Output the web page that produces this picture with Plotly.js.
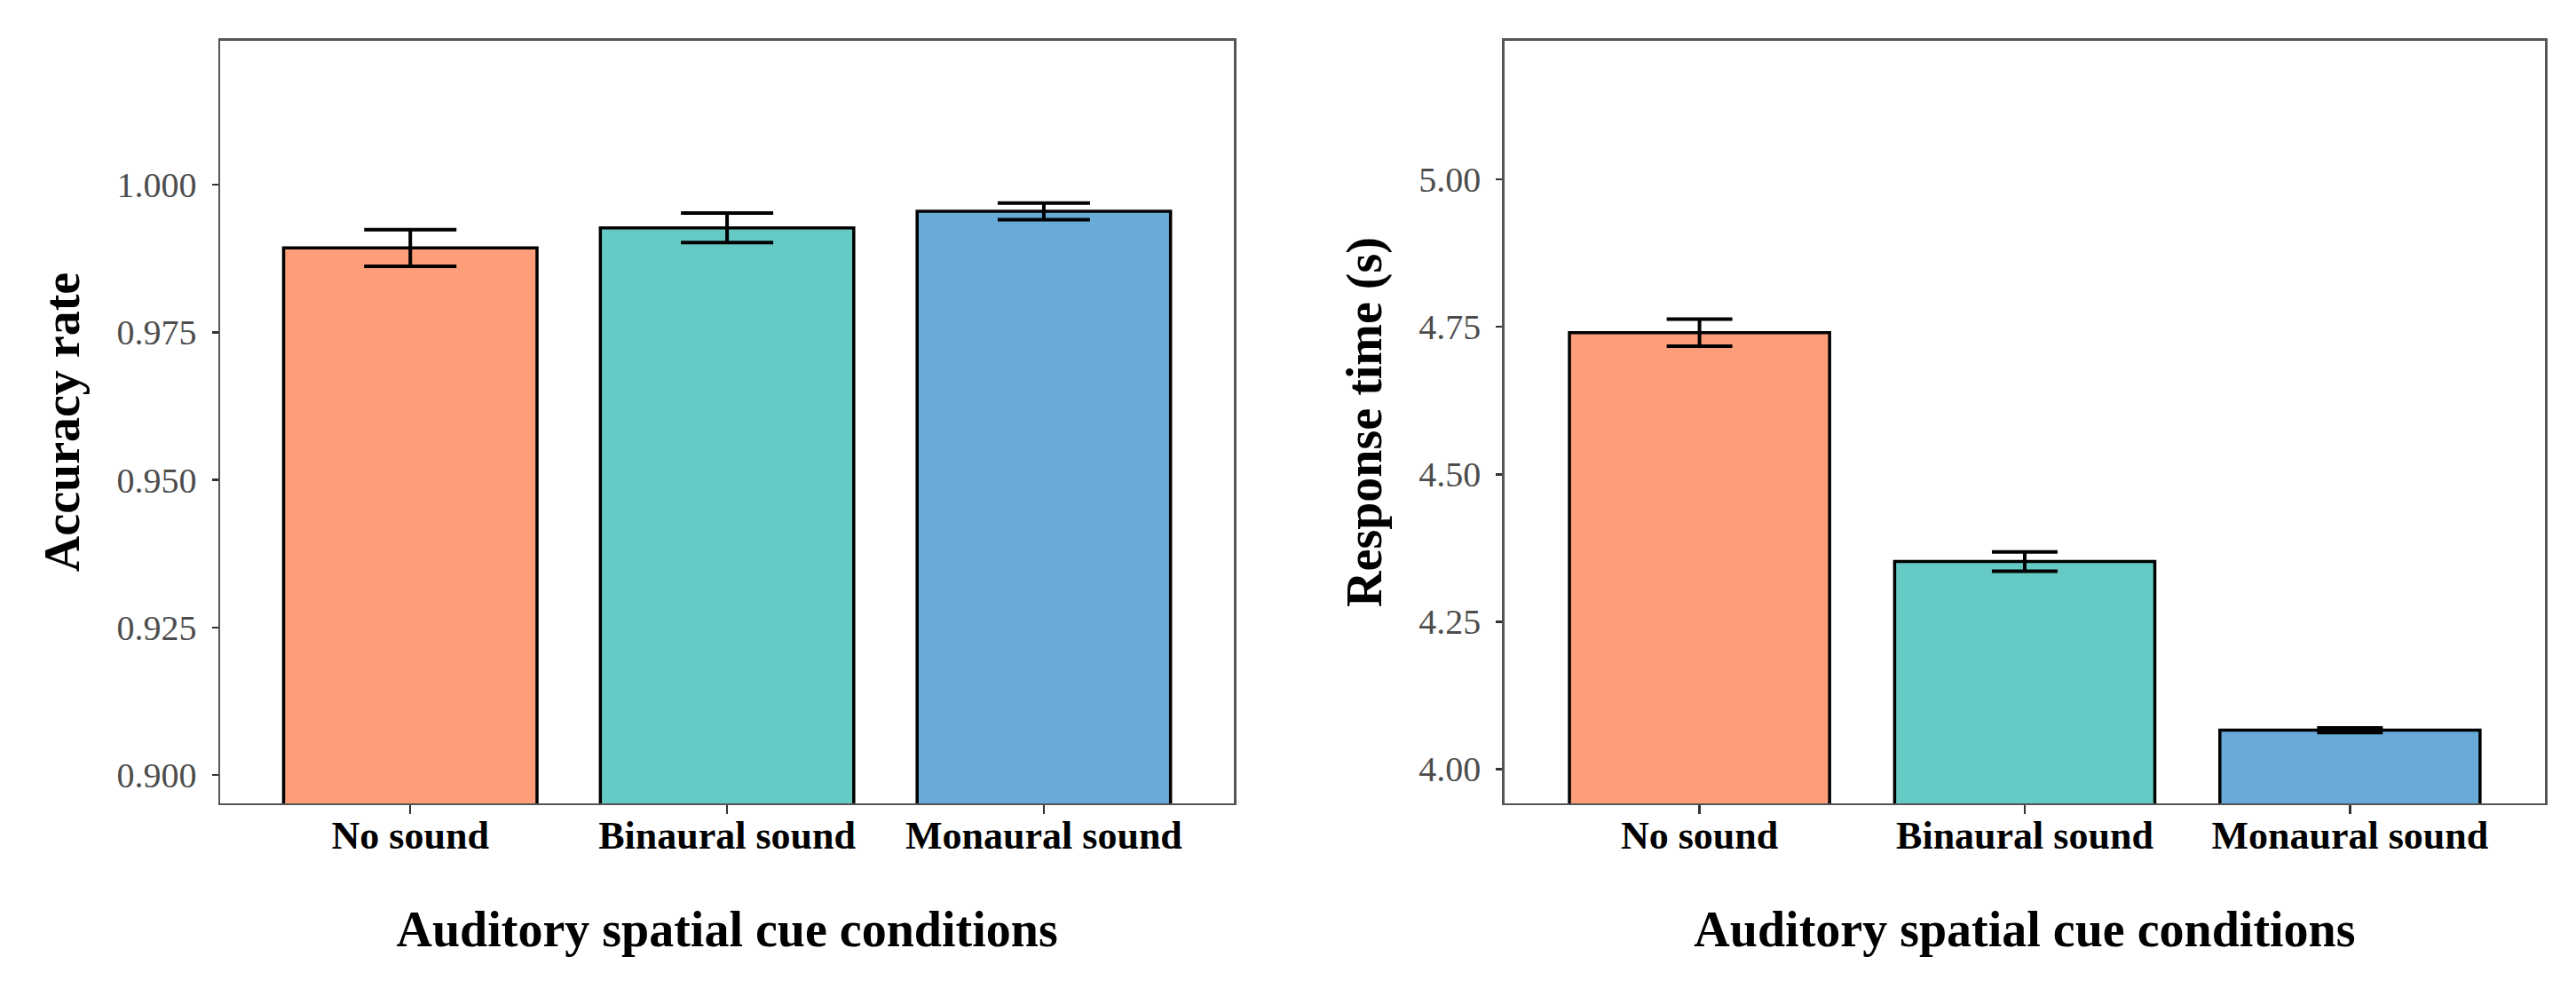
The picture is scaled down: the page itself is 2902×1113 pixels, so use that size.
<!DOCTYPE html>
<html>
<head>
<meta charset="utf-8">
<script src="https://cdn.plot.ly/plotly-3.0.1.min.js"></script>
<style>
body { margin: 0; background: #ffffff; }
#graph { width: 2902px; height: 1113px; }
</style>
</head>
<body>
<div id="graph"></div>
<script>
var conditions = ['No sound', 'Binaural sound', 'Monaural sound'];
var accuracy = [0.9893, 0.9927, 0.9955];
var accuracyErr = [0.0031, 0.0025, 0.0014];
var responseTime = [4.740, 4.352, 4.066];
var responseErr = [0.023, 0.0165, 0.004];
var barColors = ['#FE9D7A', '#66CAC4', '#68ABD8'];

var fontFamily = '"Liberation Serif", "DejaVu Serif", serif';

var traceAcc = {
    x: conditions,
    y: accuracy,
    type: 'bar',
    width: 0.8,
    marker: { color: barColors, line: { color: '#000000', width: 3.5 } },
    error_y: { type: 'data', array: accuracyErr, color: '#000000', thickness: 4, width: 52 },
    xaxis: 'x',
    yaxis: 'y',
    showlegend: false
};

var traceRt = {
    x: conditions,
    y: responseTime,
    type: 'bar',
    width: 0.8,
    marker: { color: barColors, line: { color: '#000000', width: 3.5 } },
    error_y: { type: 'data', array: responseErr, color: '#000000', thickness: 4, width: 37 },
    xaxis: 'x2',
    yaxis: 'y2',
    showlegend: false
};

function xAxis(domain, anchor) {
    return {
        domain: domain,
        anchor: anchor,
        type: 'category',
        range: [-0.6, 2.6],
        showline: true,
        mirror: true,
        linecolor: '#555555',
        linewidth: 2.5,
        ticks: 'outside',
        ticklen: 10,
        tickwidth: 2.5,
        tickcolor: '#333333',
        ticklabelstandoff: -14,
        tickfont: { family: fontFamily, size: 44, color: '#000000', weight: 'bold' },
        showgrid: false,
        zeroline: false,
        title: {
            text: 'Auditory spatial cue conditions',
            font: { family: fontFamily, size: 56, color: '#000000', weight: 'bold' },
            standoff: 62
        }
    };
}

function yAxis(domain, anchor, range, dtick, fmt, title) {
    return {
        domain: domain,
        anchor: anchor,
        range: range,
        tick0: 0,
        dtick: dtick,
        tickformat: fmt,
        showline: true,
        mirror: true,
        linecolor: '#555555',
        linewidth: 2.5,
        ticks: 'outside',
        ticklen: 7,
        tickwidth: 2.5,
        tickcolor: '#333333',
        ticklabelstandoff: 9,
        tickfont: { family: fontFamily, size: 40, color: '#4d4d4d' },
        showgrid: false,
        zeroline: false,
        title: {
            text: title,
            font: { family: fontFamily, size: 56, color: '#000000', weight: 'bold' },
            standoff: 24
        }
    };
}

var layout = {
    width: 2902,
    height: 1113,
    margin: { l: 0, r: 0, t: 0, b: 0 },
    paper_bgcolor: '#ffffff',
    plot_bgcolor: '#ffffff',
    font: { family: fontFamily },
    xaxis: xAxis([0.0855, 0.479], 'y'),
    yaxis: yAxis([0.1869, 0.9587], 'x', [0.8952, 1.0244], 0.025, '.3f', 'Accuracy rate'),
    xaxis2: xAxis([0.584, 0.988], 'y2'),
    yaxis2: yAxis([0.1869, 0.9587], 'x2', [3.942, 5.235], 0.25, '.2f', 'Response time (s)')
};

Plotly.newPlot('graph', [traceAcc, traceRt], layout, { displayModeBar: false, staticPlot: true });
</script>
</body>
</html>
